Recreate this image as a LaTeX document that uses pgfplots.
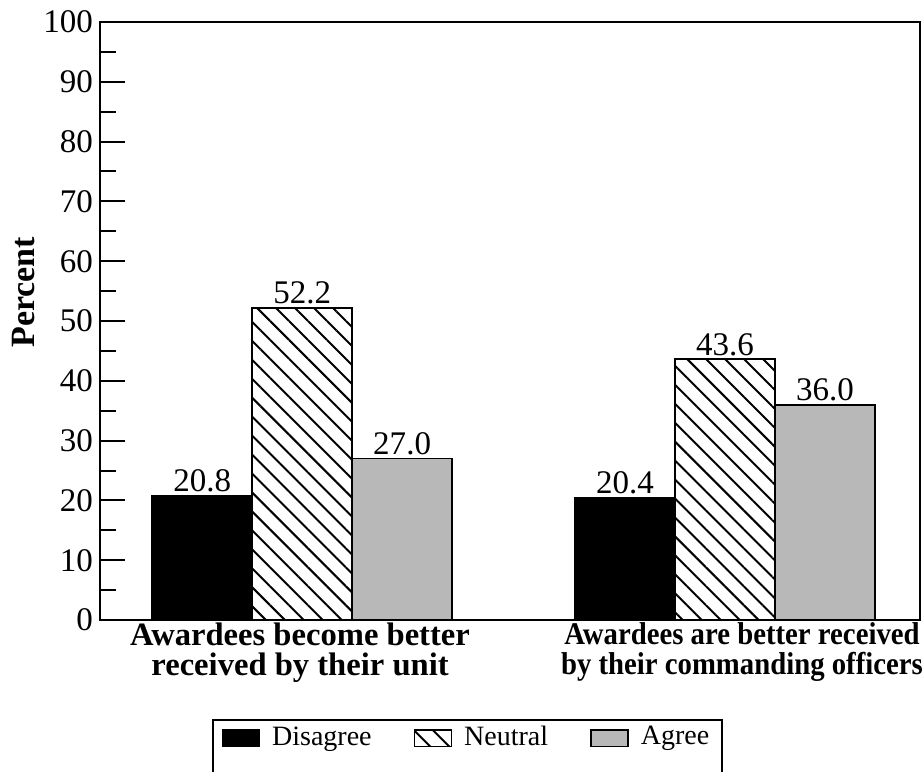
\documentclass[border=0pt]{standalone}
\usepackage{pgfplots}
\pgfplotsset{compat=1.18}
\usepackage{fontspec}
\setmainfont{Liberation Serif}
\usetikzlibrary{patterns.meta}
\begin{document}
\begin{tikzpicture}
\begin{axis}[
  scale only axis, width=410pt, height=299pt,
  xmin=-0.478, xmax=1.461, ymin=0, ymax=100,
  ybar=0pt, bar width=0.2364,
  axis line style={line width=1.2pt},
  /pgf/number format/assume math mode=true,
  ytick={0,10,...,100}, minor y tick num=1,
  ytick pos=left, tick align=inside,
  major tick length=12.5pt, minor tick length=8pt,
  every tick/.style={line width=1pt, black},
  yticklabel style={font=\fontsize{16.5}{18}\selectfont},
  xtick={-0.005},
  xticklabels={{Awardees become better\\received by their unit}},
  xticklabel style={align=center, font=\bfseries\fontsize{16.3}{14.8}\selectfont, yshift=2pt},
  x tick style={draw=none},
  extra x ticks={1.04},
  extra x tick labels={{Awardees are better received\\by their commanding officers}},
  extra x tick style={x tick style={draw=none}, xticklabel style={font=\bfseries\fontsize{15.8}{14.8}\selectfont, xscale=0.91, transform shape}},
  ylabel={\textbf{Percent}},
  ylabel style={font=\fontsize{17}{19}\selectfont, at={(ticklabel cs:0.548)}, yshift=-2.5pt},
  nodes near coords={\pgfmathprintnumber[fixed,fixed zerofill,precision=1]{\pgfplotspointmeta}},
  nodes near coords style={font=\fontsize{16.5}{18}\selectfont, anchor=south, inner sep=1.5pt},
  legend style={at={(0.448,-0.1656)}, anchor=north, legend columns=3, draw=black, line width=1pt,
    font=\fontsize{14}{16}\selectfont, inner xsep=4.5pt, inner ysep=1pt,
    nodes={text depth=24pt},
    /tikz/every odd column/.append style={column sep=4pt},
    /tikz/every even column/.append style={column sep=19pt}},
  legend image code/.code={\draw[#1,line width=0.8pt] (0pt,6.6pt) rectangle (18.5pt,15pt);},
]
\addplot[draw=black, line width=0.8pt, fill=black] coordinates {(0,20.8) (1,20.4)};
\addplot[draw=black, line width=0.8pt, pattern={Lines[angle=-45, distance=6.7pt, line width=1pt]}] coordinates {(0,52.2) (1,43.6)};
\addplot[draw=black, line width=0.8pt, fill=black!28] coordinates {(0,27.0) (1,36.0)};
\legend{Disagree, Neutral, Agree}
\coordinate (sw) at (rel axis cs:0,0);
\coordinate (ne) at (rel axis cs:1,1);
\end{axis}
\pgfresetboundingbox
\path[use as bounding box] ([shift={(-50pt,-75.5pt)}]sw) rectangle ([shift={(2pt,11pt)}]ne);
\end{tikzpicture}
\end{document}
